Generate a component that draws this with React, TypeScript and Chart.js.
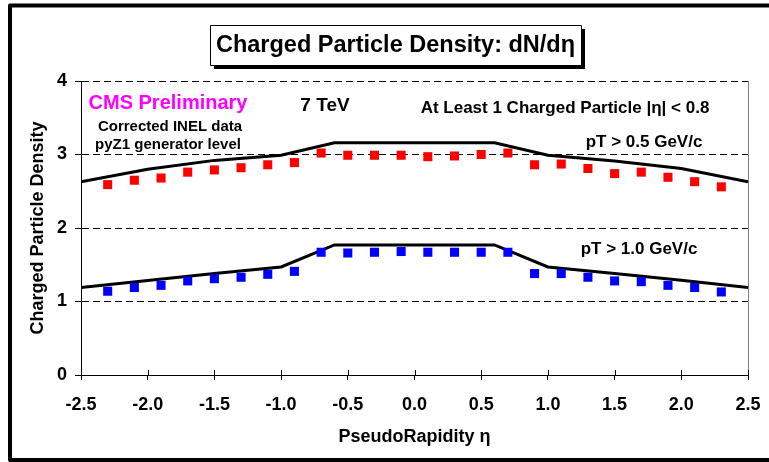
import React, { useEffect, useRef } from "react";
import { Chart, registerables } from "chart.js";

Chart.register(...registerables);

// ---- data ----
const etaData = [-2.3, -2.1, -1.9, -1.7, -1.5, -1.3, -1.1, -0.9, -0.7, -0.5, -0.3, -0.1, 0.1, 0.3, 0.5, 0.7, 0.9, 1.1, 1.3, 1.5, 1.7, 1.9, 2.1, 2.3];
const dataPt05 = [2.59, 2.65, 2.68, 2.76, 2.79, 2.82, 2.86, 2.89, 3.02, 2.99, 2.99, 2.99, 2.97, 2.98, 3.0, 3.02, 2.86, 2.87, 2.81, 2.74, 2.76, 2.69, 2.63, 2.56];
const dataPt10 = [1.14, 1.19, 1.22, 1.28, 1.31, 1.33, 1.37, 1.41, 1.67, 1.66, 1.67, 1.68, 1.67, 1.67, 1.67, 1.67, 1.38, 1.38, 1.33, 1.28, 1.27, 1.22, 1.19, 1.13];
const etaGen = [-2.5, -2.0, -1.5, -1.0, -0.6, 0.6, 1.0, 1.5, 2.0, 2.5];
const genPt05 = [2.63, 2.8, 2.92, 2.99, 3.16, 3.16, 2.99, 2.91, 2.81, 2.63];
const genPt10 = [1.19, 1.285, 1.38, 1.47, 1.77, 1.77, 1.47, 1.38, 1.29, 1.19];
const xTicks = [-2.5, -2.0, -1.5, -1.0, -0.5, 0.0, 0.5, 1.0, 1.5, 2.0, 2.5];
const yTicks = [0, 1, 2, 3, 4];

const chartTitle = "Charged Particle Density: dN/dη";
const xTitle = "PseudoRapidity η";
const yTitle = "Charged Particle Density";

const FONT = "'Liberation Sans', Arial, sans-serif";

const pts = (xs: number[], ys: number[]) => xs.map((x, i) => ({ x, y: ys[i] }));

const decorPlugin = {
  id: "decor",
  beforeDraw(chart: any) {
    const ctx = chart.ctx;
    ctx.save();
    ctx.fillStyle = "#ffffff";
    ctx.fillRect(0, 0, chart.width, chart.height);
    ctx.restore();
  },
  afterDraw(chart: any) {
    const ctx = chart.ctx;
    const { chartArea } = chart;
    const xs = chart.scales.x;
    ctx.save();
    // right border of plot area
    ctx.strokeStyle = "#808080";
    ctx.lineWidth = 1;
    ctx.beginPath();
    ctx.moveTo(chartArea.right + 0.5, chartArea.top);
    ctx.lineTo(chartArea.right + 0.5, chartArea.bottom);
    ctx.stroke();
    // inner part of x ticks (ticks cross the axis)
    ctx.strokeStyle = "#000000";
    xs.ticks.forEach((t: any) => {
      const px = Math.round(xs.getPixelForValue(t.value)) + 0.5;
      ctx.beginPath();
      ctx.moveTo(px, chartArea.bottom);
      ctx.lineTo(px, chartArea.bottom - 5);
      ctx.stroke();
    });

    // outer frame
    ctx.lineWidth = 4;
    ctx.lineJoin = "round";
    ctx.strokeStyle = "#000000";
    ctx.beginPath();
    ctx.moveTo(790, 5.5);
    ctx.lineTo(10, 5.5);
    ctx.lineTo(10, 460);
    ctx.lineTo(790, 460);
    ctx.stroke();

    // title box with shadow
    const bx = 210, by = 25, bw = 371, bh = 40;
    ctx.fillStyle = "#000000";
    ctx.fillRect(bx + 4, by + 4, bw, bh);
    ctx.fillStyle = "#ffffff";
    ctx.fillRect(bx, by, bw, bh);
    ctx.lineWidth = 1;
    ctx.strokeStyle = "#000000";
    ctx.strokeRect(bx + 0.5, by + 0.5, bw, bh);
    ctx.fillStyle = "#000000";
    ctx.textAlign = "center";
    ctx.textBaseline = "middle";
    ctx.font = `bold 23.5px ${FONT}`;
    ctx.fillText(chartTitle, bx + bw / 2, by + bh / 2 + 1);

    // annotations
    const txt = (s: string, x: number, y: number, size: number, color = "#000000") => {
      ctx.font = `bold ${size}px ${FONT}`;
      ctx.fillStyle = color;
      ctx.fillText(s, x, y);
    };
    txt("CMS Preliminary", 168, 103, 20, "#FF00FF");
    txt("7 TeV", 325, 106, 19);
    txt("At Least 1 Charged Particle |η| < 0.8", 565, 108, 17);
    txt("Corrected INEL data", 170, 127, 15);
    txt("pyZ1 generator level", 168, 145, 15);
    txt("pT > 0.5 GeV/c", 644, 142, 17);
    txt("pT > 1.0 GeV/c", 639, 249, 17);
    ctx.restore();
  },
};

export default function App() {
  const ref = useRef<HTMLCanvasElement | null>(null);
  useEffect(() => {
    if (!ref.current) return;
    const chart = new Chart(ref.current, {
      type: "scatter",
      data: {
        datasets: [
          {
            label: "pT > 0.5 data",
            data: pts(etaData, dataPt05),
            pointStyle: "rect",
            pointRadius: 6.4,
            pointBorderWidth: 0,
            backgroundColor: "#FF0000",
            borderColor: "#FF0000",
            showLine: false,
          },
          {
            label: "pT > 1.0 data",
            data: pts(etaData, dataPt10),
            pointStyle: "rect",
            pointRadius: 6.4,
            pointBorderWidth: 0,
            backgroundColor: "#0000FF",
            borderColor: "#0000FF",
            showLine: false,
          },
          {
            label: "pT > 0.5 gen",
            data: pts(etaGen, genPt05),
            showLine: true,
            borderColor: "#000000",
            borderWidth: 3,
            pointRadius: 0,
            tension: 0,
          },
          {
            label: "pT > 1.0 gen",
            data: pts(etaGen, genPt10),
            showLine: true,
            borderColor: "#000000",
            borderWidth: 3,
            pointRadius: 0,
            tension: 0,
          },
        ],
      },
      options: {
        animation: false,
        responsive: false,
        devicePixelRatio: 1,
        layout: { padding: { top: 81, right: 21, bottom: 0, left: 0 } },
        plugins: { legend: { display: false }, tooltip: { enabled: false }, title: { display: false } },
        scales: {
          x: {
            type: "linear",
            min: -2.5,
            max: 2.5,
            afterFit: (s: any) => {
              s.height = 87;
              s.paddingLeft = 0;
              s.paddingRight = 0;
            },
            afterBuildTicks: (s: any) => {
              s.ticks = xTicks.map((v) => ({ value: v }));
            },
            ticks: {
              color: "#000000",
              font: { family: FONT, size: 18, weight: "bold" },
              padding: 14,
              maxRotation: 0,
              autoSkip: false,
              callback: (v: any) => Number(v).toFixed(1),
            },
            grid: { display: true, drawOnChartArea: false, drawTicks: true, tickLength: 5, color: "#000000" },
            border: { display: true, color: "#000000", width: 1 },
            title: {
              display: true,
              text: xTitle,
              color: "#000000",
              font: { family: FONT, size: 18, weight: "bold" },
              padding: { top: 0, bottom: 14 },
            },
          },
          y: {
            type: "linear",
            min: 0,
            max: 4,
            afterFit: (s: any) => {
              s.width = 81;
              s.paddingTop = 0;
              s.paddingBottom = 0;
            },
            afterBuildTicks: (s: any) => {
              s.ticks = yTicks.map((v) => ({ value: v }));
            },
            ticks: {
              color: "#000000",
              font: { family: FONT, size: 18, weight: "bold" },
              padding: 8,
              callback: (v: any) => String(v),
            },
            grid: {
              display: true,
              drawOnChartArea: true,
              drawTicks: true,
              tickLength: 6,
              color: "#000000",
              lineWidth: 1,
              tickColor: "#000000",
              tickBorderDash: [],
            },
            border: { display: true, color: "#000000", width: 1, dash: [7, 4] },
            title: {
              display: true,
              text: yTitle,
              color: "#000000",
              font: { family: FONT, size: 18, weight: "bold" },
              padding: { top: 27, bottom: 0 },
            },
          },
        },
      },
      plugins: [decorPlugin],
    });
    return () => chart.destroy();
  }, []);
  return (
    <div style={{ position: "fixed", left: 0, top: 0, width: 769, height: 462, background: "#fff" }}>
      <canvas ref={ref} width={769} height={462} style={{ width: 769, height: 462, display: "block" }} />
    </div>
  );
}
